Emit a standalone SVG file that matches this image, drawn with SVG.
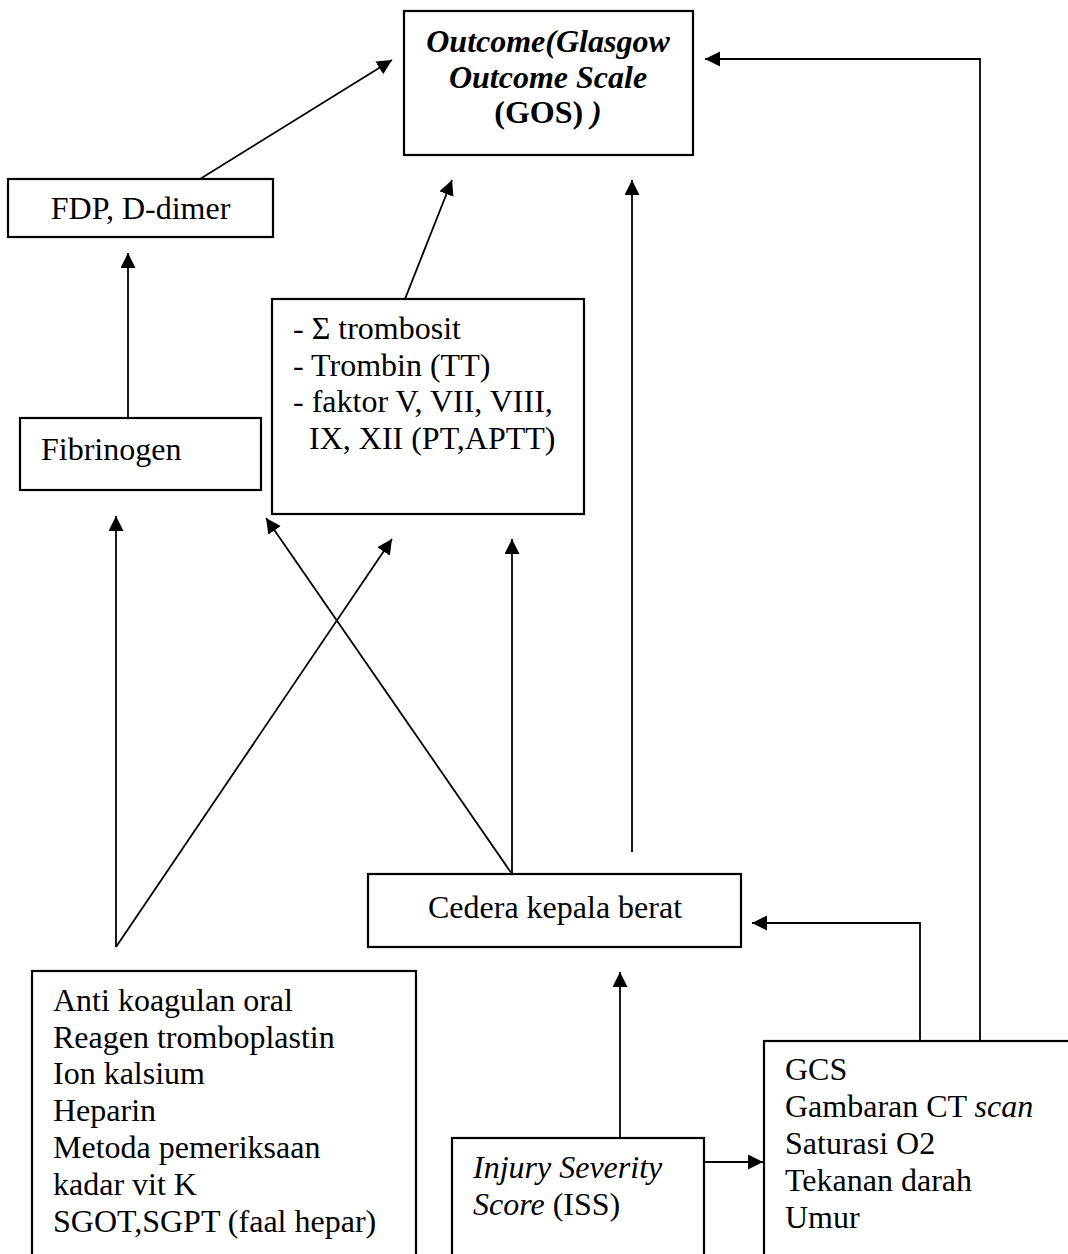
<svg xmlns="http://www.w3.org/2000/svg" width="1068" height="1254" viewBox="0 0 1068 1254">
  <style>
    .box { fill: #ffffff; stroke: #000000; stroke-width: 2.2; }
    .t { font-family: "Liberation Serif", "Times New Roman", serif; font-size: 32px; fill: #000000; }
    .bi { font-weight: bold; font-style: italic; }
    .b { font-weight: bold; }
    .i { font-style: italic; }
    .edge { fill: none; stroke: #000000; stroke-width: 1.8; }
  </style>
  <defs>
    <marker id="arrow" markerUnits="userSpaceOnUse" markerWidth="16" markerHeight="16" refX="15" refY="7.5" orient="auto">
      <path d="M0,0 L15,7.5 L0,15 z" fill="#000000"/>
    </marker>
  </defs>
  <rect width="1068" height="1254" fill="#ffffff"/>

  <!-- connectors -->
  <g id="connectors">
    <line class="edge" x1="200" y1="179" x2="392" y2="60" marker-end="url(#arrow)"/>
    <line class="edge" x1="128" y1="418" x2="128" y2="253" marker-end="url(#arrow)"/>
    <line class="edge" x1="405" y1="299" x2="452" y2="180" marker-end="url(#arrow)"/>
    <line class="edge" x1="632" y1="852" x2="632" y2="180" marker-end="url(#arrow)"/>
    <polyline class="edge" points="980,1041 980,59 705,59" marker-end="url(#arrow)"/>
    <line class="edge" x1="512" y1="874" x2="512" y2="539" marker-end="url(#arrow)"/>
    <line class="edge" x1="512" y1="874" x2="266" y2="518" marker-end="url(#arrow)"/>
    <line class="edge" x1="116" y1="947" x2="116" y2="516" marker-end="url(#arrow)"/>
    <line class="edge" x1="116" y1="947" x2="392" y2="539" marker-end="url(#arrow)"/>
    <polyline class="edge" points="920,1041 920,923 752,923" marker-end="url(#arrow)"/>
    <line class="edge" x1="620" y1="1138" x2="620" y2="972" marker-end="url(#arrow)"/>
    <line class="edge" x1="704" y1="1162" x2="763" y2="1162" marker-end="url(#arrow)"/>
  </g>

  <!-- outcome -->
  <g id="node-outcome">
    <rect class="box" x="404" y="11" width="289" height="144"/>
    <text class="t bi" x="548" y="51.5" text-anchor="middle">Outcome(Glasgow</text>
    <text class="t bi" x="548" y="87.5" text-anchor="middle">Outcome Scale</text>
    <text class="t b" x="548" y="123" text-anchor="middle">(GOS)<tspan class="bi"> )</tspan></text>
  </g>

  <!-- fibrin degradation -->
  <g id="node-fdp">
    <rect class="box" x="8" y="179" width="265" height="58"/>
    <text class="t" x="140.5" y="219" text-anchor="middle">FDP, D-dimer</text>
  </g>

  <!-- coagulation tests -->
  <g id="node-koagulasi">
    <rect class="box" x="272" y="299" width="312" height="215"/>
    <text class="t" x="293" y="339">- Σ trombosit</text>
    <text class="t" x="293" y="375.5">- Trombin (TT)</text>
    <text class="t" x="293" y="412">- faktor V, VII, VIII,</text>
    <text class="t" x="309" y="448.5">IX, XII (PT,APTT)</text>
  </g>

  <!-- fibrinogen -->
  <g id="node-fibrinogen">
    <rect class="box" x="20" y="418" width="241" height="72"/>
    <text class="t" x="41" y="460">Fibrinogen</text>
  </g>

  <!-- head injury -->
  <g id="node-cedera">
    <rect class="box" x="368" y="874" width="373" height="73"/>
    <text class="t" x="555" y="918" text-anchor="middle">Cedera kepala berat</text>
  </g>

  <!-- confounding factors -->
  <g id="node-faktor">
    <rect class="box" x="32" y="971" width="384" height="300"/>
    <text class="t" x="53" y="1010.7">Anti koagulan oral</text>
    <text class="t" x="53" y="1047.5">Reagen tromboplastin</text>
    <text class="t" x="53" y="1084.3">Ion kalsium</text>
    <text class="t" x="53" y="1121.1">Heparin</text>
    <text class="t" x="53" y="1157.9">Metoda pemeriksaan</text>
    <text class="t" x="53" y="1194.7">kadar vit K</text>
    <text class="t" x="53" y="1231.5">SGOT,SGPT (faal hepar)</text>
  </g>

  <!-- injury severity score -->
  <g id="node-iss">
    <rect class="box" x="452" y="1138" width="252" height="140"/>
    <text class="t i" x="473" y="1178">Injury Severity</text>
    <text class="t" x="473" y="1214.8"><tspan class="i">Score</tspan> (ISS)</text>
  </g>

  <!-- clinical parameters -->
  <g id="node-klinis">
    <rect class="box" x="764" y="1041" width="330" height="240"/>
    <text class="t" x="785" y="1080.3">GCS</text>
    <text class="t" x="785" y="1117.1">Gambaran CT <tspan class="i">scan</tspan></text>
    <text class="t" x="785" y="1153.9">Saturasi O2</text>
    <text class="t" x="785" y="1190.7">Tekanan darah</text>
    <text class="t" x="785" y="1227.5">Umur</text>
  </g>
</svg>
